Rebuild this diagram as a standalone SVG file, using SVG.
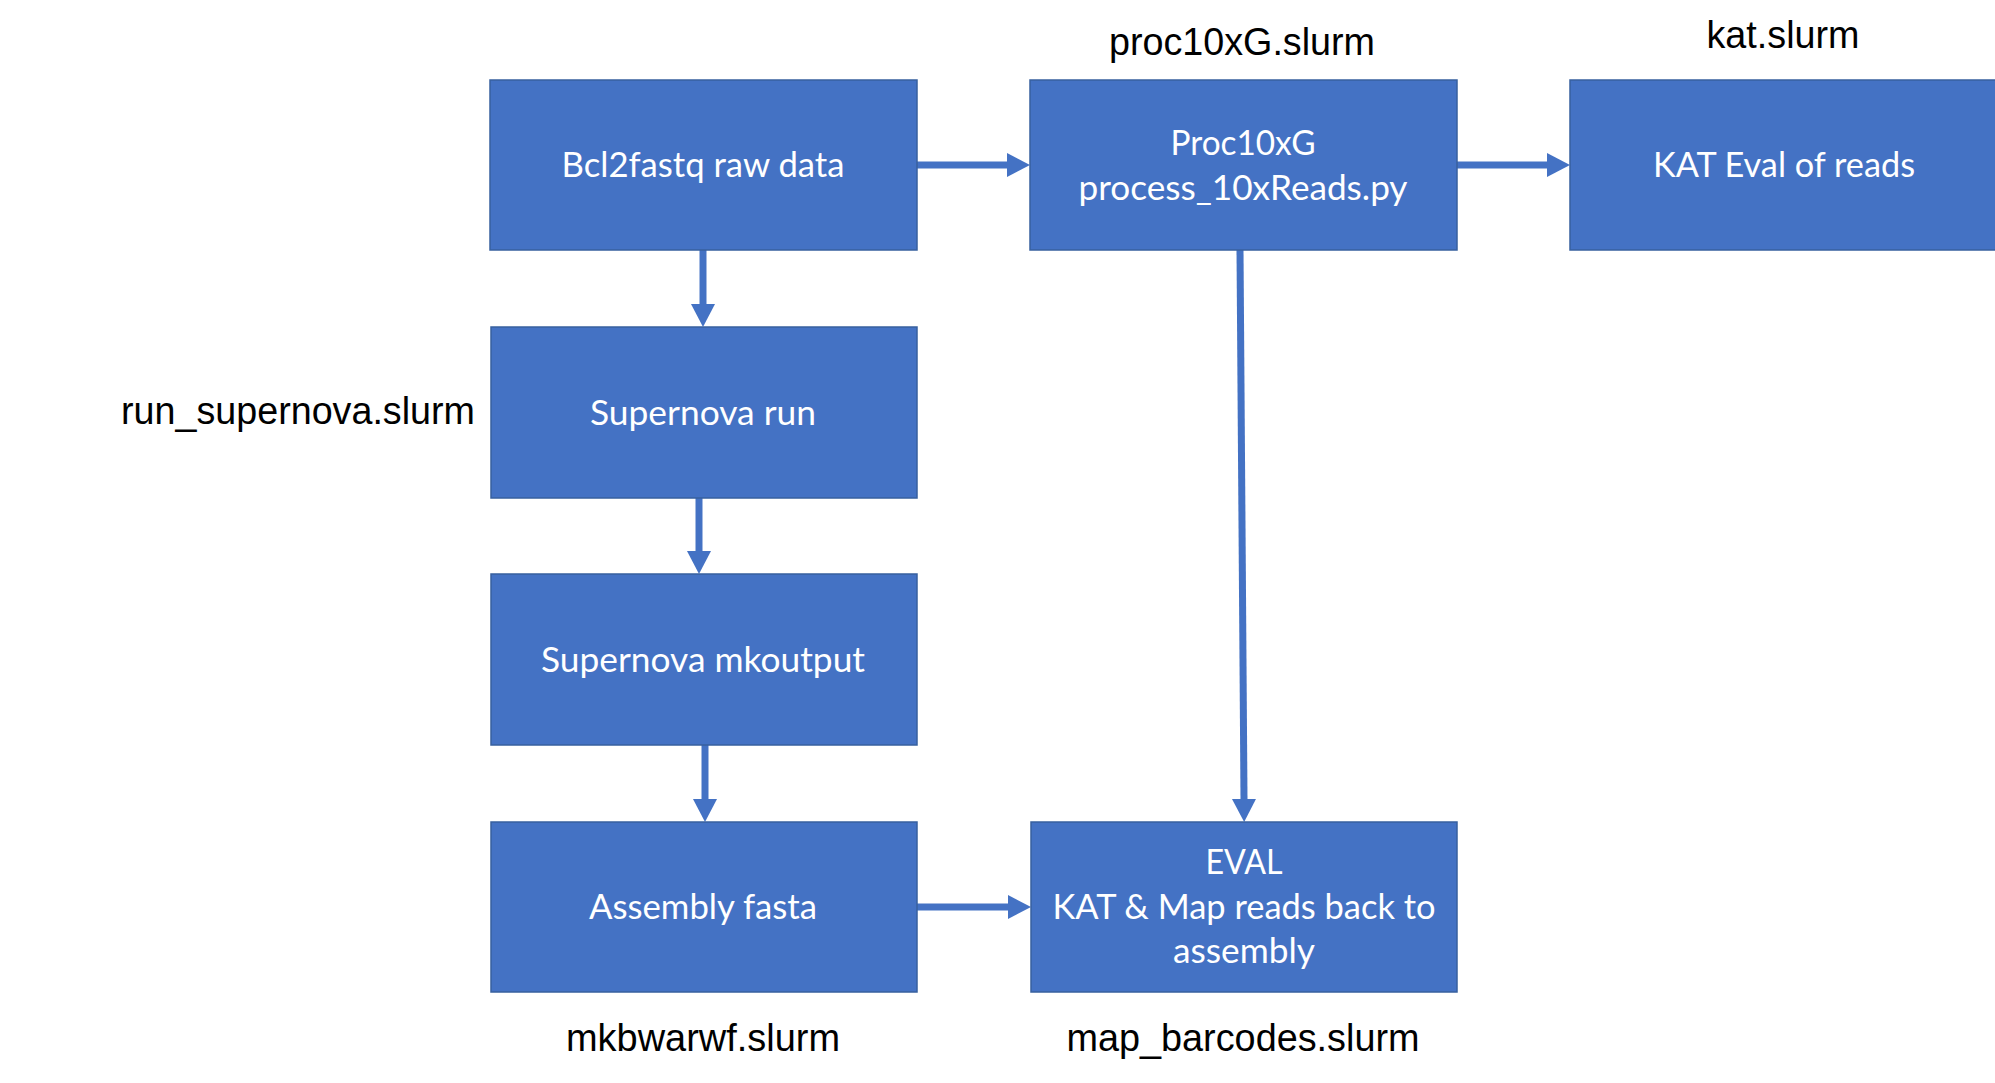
<svg xmlns="http://www.w3.org/2000/svg" width="1995" height="1083" viewBox="0 0 1995 1083">
<style>
.box{fill:#4472C4;stroke:#37609F;stroke-width:1.5}
.bt{font-family:Lato,"Open Sans","Liberation Sans",sans-serif;font-size:35px;fill:#FFFFFF;text-anchor:middle}
.lb{font-family:"Liberation Sans",Arial,sans-serif;font-size:38px;fill:#000000;text-anchor:middle}
.conn{stroke:#4472C4;stroke-width:7;fill:none;marker-end:url(#ah)}
</style>
<defs>
<marker id="ah" markerUnits="userSpaceOnUse" markerWidth="24" markerHeight="24" refX="0" refY="12" orient="auto" viewBox="0 0 24 24">
<path d="M0,0 L23,12 L0,24 Z" fill="#4472C4"/>
</marker>
</defs>
<rect width="1995" height="1083" fill="#FFFFFF"/>
<g id="connectors">
<line class="conn" x1="703" y1="250" x2="703" y2="304"/>
<line class="conn" x1="699" y1="498" x2="699" y2="551"/>
<line class="conn" x1="705" y1="745" x2="705" y2="799"/>
<line class="conn" x1="917" y1="165" x2="1007" y2="165"/>
<line class="conn" x1="1457" y1="165" x2="1547" y2="165"/>
<line class="conn" x1="1240" y1="250" x2="1244" y2="799"/>
<line class="conn" x1="917" y1="907" x2="1008" y2="907"/>
</g>
<g id="node-bcl2fastq">
<rect class="box" x="490" y="80" width="427" height="170"/>
<text class="bt" x="703" y="177" textLength="283" lengthAdjust="spacingAndGlyphs">Bcl2fastq raw data</text>
</g>
<g id="node-proc10xg">
<rect class="box" x="1030" y="80" width="427" height="170"/>
<text class="bt" x="1243" y="155" textLength="145" lengthAdjust="spacingAndGlyphs">Proc10xG</text>
<text class="bt" x="1243" y="200" textLength="329" lengthAdjust="spacingAndGlyphs">process_10xReads.py</text>
</g>
<g id="node-kat">
<rect class="box" x="1570" y="80" width="427" height="170"/>
<text class="bt" x="1784" y="177" textLength="262" lengthAdjust="spacingAndGlyphs">KAT Eval of reads</text>
</g>
<g id="node-supernova-run">
<rect class="box" x="491" y="327" width="426" height="171"/>
<text class="bt" x="703" y="425" textLength="226" lengthAdjust="spacingAndGlyphs">Supernova run</text>
</g>
<g id="node-supernova-mkoutput">
<rect class="box" x="491" y="574" width="426" height="171"/>
<text class="bt" x="703" y="672" textLength="324" lengthAdjust="spacingAndGlyphs">Supernova mkoutput</text>
</g>
<g id="node-assembly">
<rect class="box" x="491" y="822" width="426" height="170"/>
<text class="bt" x="703" y="919" textLength="228" lengthAdjust="spacingAndGlyphs">Assembly fasta</text>
</g>
<g id="node-eval">
<rect class="box" x="1031" y="822" width="426" height="170"/>
<text class="bt" x="1244" y="874" textLength="77" lengthAdjust="spacingAndGlyphs">EVAL</text>
<text class="bt" x="1244" y="919" textLength="383" lengthAdjust="spacingAndGlyphs">KAT &amp; Map reads back to</text>
<text class="bt" x="1244" y="963" textLength="142" lengthAdjust="spacingAndGlyphs">assembly</text>
</g>
<g id="labels">
<text class="lb" x="1242" y="55" textLength="266" lengthAdjust="spacingAndGlyphs">proc10xG.slurm</text>
<text class="lb" x="1783" y="48" textLength="153" lengthAdjust="spacingAndGlyphs">kat.slurm</text>
<text class="lb" x="298" y="424" textLength="354" lengthAdjust="spacingAndGlyphs">run_supernova.slurm</text>
<text class="lb" x="703" y="1051" textLength="274" lengthAdjust="spacingAndGlyphs">mkbwarwf.slurm</text>
<text class="lb" x="1243" y="1051" textLength="353" lengthAdjust="spacingAndGlyphs">map_barcodes.slurm</text>
</g>
</svg>
